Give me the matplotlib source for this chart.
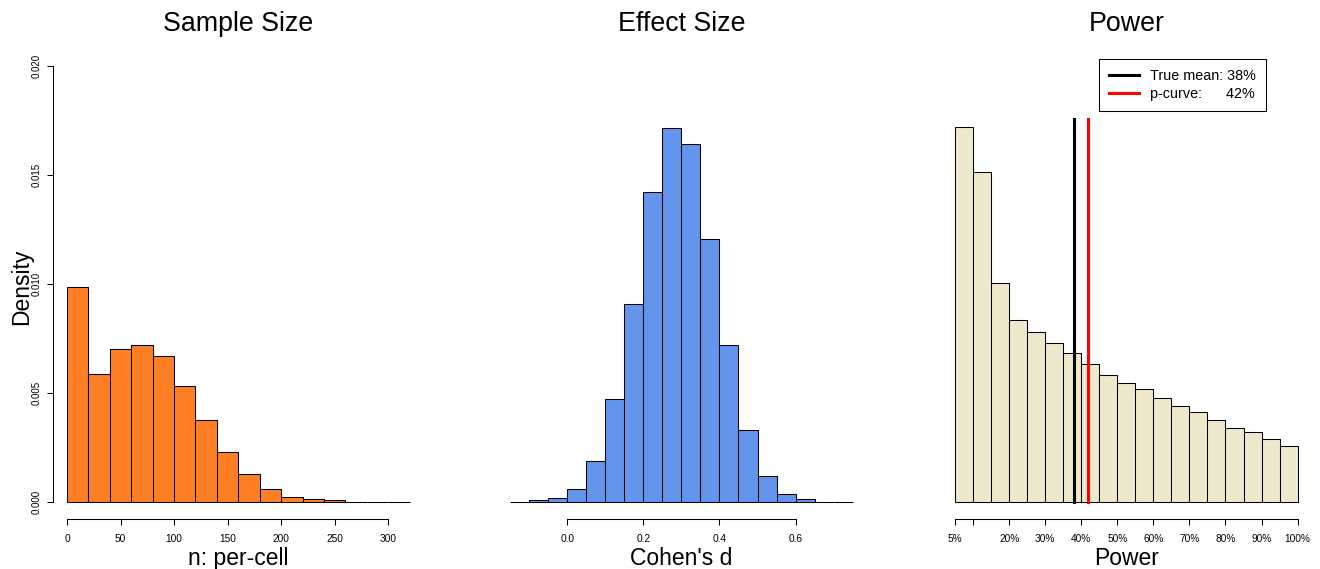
import matplotlib
matplotlib.use("Agg")
import matplotlib.pyplot as plt
import numpy as np

plt.rcParams['font.family'] = ['Liberation Sans', 'DejaVu Sans']

# Sample size: per-cell n, bins of 20 (density)
n_edges = np.arange(0, 320, 20)
n_dens = [0.00986, 0.00584, 0.00699, 0.00718, 0.00666, 0.00532, 0.00373, 0.00229,
          0.00125, 0.00057, 0.00022, 0.00010, 0.00005, 0.0, 0.0, 0.0]

# Effect size: Cohen's d, bins of 0.05 (density)
d_edges = np.round(np.arange(-0.15, 0.75, 0.05), 2)
d_dens = [0.0, 0.012, 0.033, 0.133, 0.421, 1.066, 2.053, 3.214, 3.879, 3.719,
          2.729, 1.630, 0.740, 0.265, 0.078, 0.026, 0.0, 0.0]

# Power, bins of 5% (density)
p_edges = np.arange(5, 100, 5)
p_dens = [0.02766, 0.02433, 0.01617, 0.01341, 0.01251, 0.01171, 0.01095, 0.01018,
          0.00933, 0.00876, 0.00834, 0.00763, 0.00708, 0.00664, 0.00600, 0.00545,
          0.00511, 0.00460, 0.00410]
true_mean = 38
pcurve_est = 42
line_top = 0.0283

p_ticks = [5, 10, 20, 30, 40, 50, 60, 70, 80, 90, 100]
p_labels = ['5%', '', '20%', '30%', '40%', '50%', '60%', '70%', '80%', '90%', '100%']

fig = plt.figure(figsize=(13.2, 5.69), dpi=100)
W, H = 1320, 569
bottom = 1 - 519 / H
height = 470.6 / H
width = 370 / W
ax1 = fig.add_axes([53.3 / W, bottom, width, height])
ax2 = fig.add_axes([496.4 / W, bottom, width, height])
ax3 = fig.add_axes([941.3 / W, bottom, width, height])


def r_lims(lo, hi):
    # R style axis extension of 4%
    pad = 0.04 * (hi - lo)
    return lo - pad, hi + pad


def style(ax, title, xlabel):
    for s in ['top', 'right', 'left']:
        ax.spines[s].set_visible(False)
    ax.spines['bottom'].set_linewidth(0.75)
    ax.tick_params(axis='x', length=4.1, width=0.75, labelsize=7.3, pad=6.4)
    ax.set_yticks([])
    ax.set_title(title, fontsize=19.3, pad=12.7)
    ax.set_xlabel(xlabel, fontsize=16.5)
    ax.xaxis.set_label_coords(0.5, -0.0967)
    ax.xaxis.label.set_va('baseline')


# Panel 1
ax1.bar(n_edges, n_dens, width=20, align='edge', color='#FF7F24',
        edgecolor='black', linewidth=0.75)
ax1.set_xlim(*r_lims(0, 320))
ax1.set_ylim(*r_lims(0, 0.02))
style(ax1, 'Sample Size', 'n: per-cell')
ax1.set_xticks(np.arange(0, 301, 50))
ax1.spines['bottom'].set_bounds(0, 300)
ax1.spines['left'].set_visible(True)
ax1.spines['left'].set_linewidth(0.75)
ax1.spines['left'].set_bounds(0, 0.02)
ax1.set_yticks([0, 0.005, 0.010, 0.015, 0.020])
ax1.set_yticklabels(['0.000', '0.005', '0.010', '0.015', '0.020'],
                    rotation=90, va='center')
ax1.tick_params(axis='y', length=4.1, width=0.75, labelsize=7, pad=4.1)
ax1.set_ylabel('Density', fontsize=16.5)
ax1.yaxis.set_label_coords(-0.0544, 0.493)

# Panel 2
ax2.bar(d_edges, d_dens, width=0.05, align='edge', color='#6495ED',
        edgecolor='black', linewidth=0.75)
ax2.set_xlim(*r_lims(-0.15, 0.75))
ax2.set_ylim(*r_lims(0, 4.53))
style(ax2, 'Effect Size', "Cohen's d")
ax2.set_xticks([0.0, 0.2, 0.4, 0.6])
ax2.set_xticklabels(['0.0', '0.2', '0.4', '0.6'])
ax2.spines['bottom'].set_bounds(0, 0.6)

# Panel 3
ax3.bar(p_edges, p_dens, width=5, align='edge', color='#EEE8CD',
        edgecolor='black', linewidth=0.75)
ax3.plot([true_mean, true_mean], [0, line_top], color='black', lw=2.2,
         label='True mean: %d%%' % true_mean)
ax3.plot([pcurve_est, pcurve_est], [0, line_top], color='red', lw=2.2,
         label='p-curve:      %d%%' % pcurve_est)
ax3.set_xlim(*r_lims(5, 100))
ax3.set_ylim(*r_lims(0, 0.0322))
style(ax3, 'Power', 'Power')
ax3.set_xticks(p_ticks)
ax3.set_xticklabels(p_labels)
ax3.spines['bottom'].set_bounds(5, 100)
leg = ax3.legend(loc='upper right', bbox_to_anchor=(1266 / W, 1 - 59.3 / H),
                 bbox_transform=fig.transFigure, borderaxespad=0, fontsize=10.4,
                 fancybox=False, framealpha=1, edgecolor='black',
                 handlelength=2.07, handletextpad=0.76, labelspacing=0.24,
                 borderpad=0.7)
leg.get_frame().set_linewidth(0.75)

fig.savefig('out.png', dpi=100)
